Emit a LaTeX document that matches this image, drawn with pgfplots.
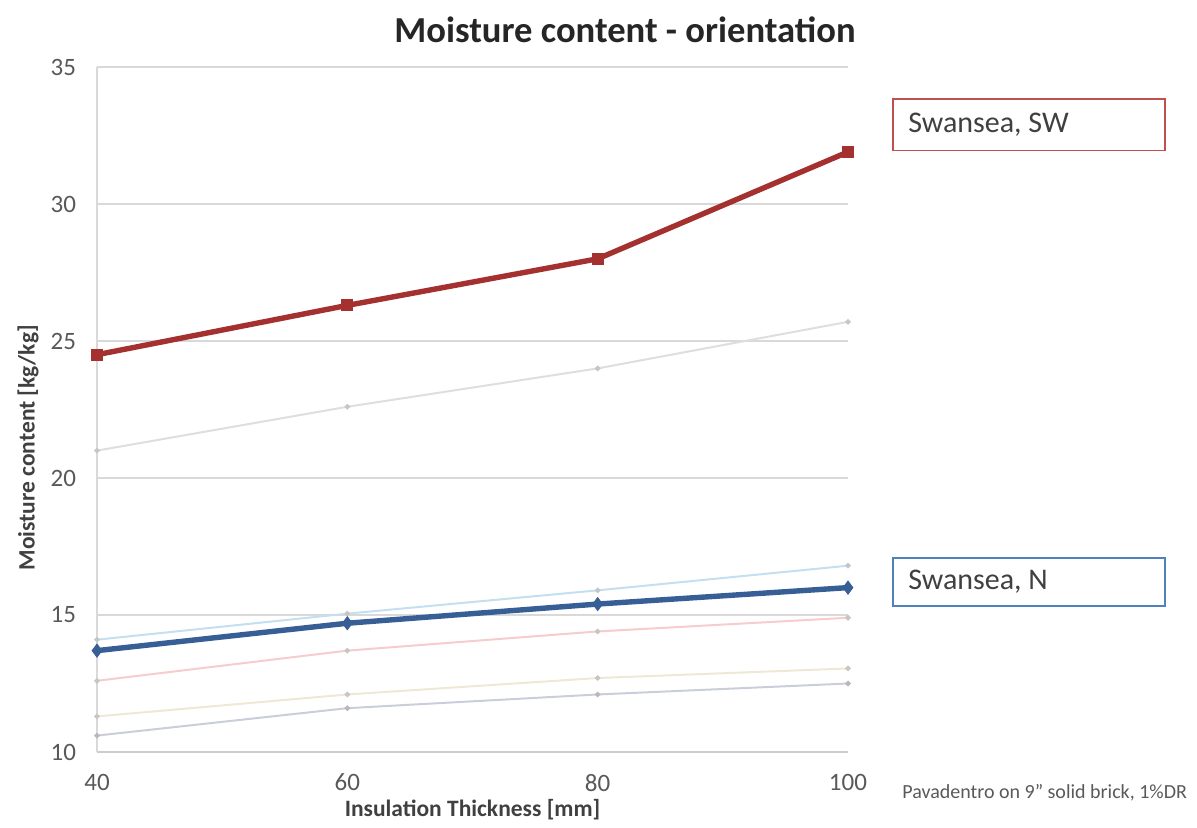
\documentclass[border=0pt]{standalone}
\usepackage{pgfplots}
\pgfplotsset{compat=1.18}
\usepackage{fontspec}
\setmainfont{Carlito}

\definecolor{swred}{RGB}{164,48,48}
\definecolor{nblue}{RGB}{55,95,150}
\definecolor{fgray}{RGB}{222,222,222}
\definecolor{fblue}{RGB}{196,223,240}
\definecolor{fpink}{RGB}{246,204,204}
\definecolor{fbeige}{RGB}{238,232,212}
\definecolor{fslate}{RGB}{202,206,218}
\definecolor{gridc}{RGB}{217,217,217}
\definecolor{tickc}{RGB}{89,89,89}
\definecolor{labc}{RGB}{64,64,64}
\definecolor{boxred}{RGB}{192,80,77}
\definecolor{boxblue}{RGB}{79,129,189}

\begin{document}
\begin{tikzpicture}
  \path[use as bounding box] (0,0) rectangle (598.5pt,413.5pt);

  \begin{axis}[
      at={(48.5pt,37.5pt)}, anchor=south west,
      scale only axis,
      width=375.5pt, height=342.5pt,
      xmin=40, xmax=100,
      ymin=10, ymax=35,
      xtick={40,60,80,100},
      ytick={10,15,20,25,30,35},
      ymajorgrids=true,
      grid style={gridc, line width=0.8pt},
      major tick length=0pt,
      axis x line*=bottom,
      axis y line*=left,
      x axis line style={-, draw=gridc!80!black!30!gridc, line width=0.9pt},
      y axis line style={-, draw=gridc, line width=0.9pt},
      tick label style={font=\fontsize{12.5}{14}\selectfont, text=tickc},
      /pgf/number format/assume math mode=true,
      yticklabel style={xshift=-7pt},
      xticklabel style={yshift=-7.5pt},
      xlabel={Insulation Thickness [mm]},
      ylabel={Moisture content [kg/kg]},
      label style={font=\bfseries\fontsize{11.75}{13}\selectfont, text=labc},
      xlabel style={at={(rel axis cs:0.5,0)}, anchor=center, yshift=-29pt},
      ylabel style={at={(rel axis cs:0,0.444)}, anchor=center, yshift=34.5pt},
      clip=false,
    ]

    % faint reference series
    \addplot[fgray, line width=1pt, mark=*, mark size=0.8pt, mark options={fill=gray!45, draw=gray!45}]
      coordinates {(40,21.0) (60,22.6) (80,24.0) (100,25.7)};
    \addplot[fblue, line width=1pt, mark=*, mark size=0.8pt, mark options={fill=gray!45, draw=gray!45}]
      coordinates {(40,14.1) (60,15.05) (80,15.9) (100,16.8)};
    \addplot[fpink, line width=1pt, mark=*, mark size=0.8pt, mark options={fill=gray!45, draw=gray!45}]
      coordinates {(40,12.6) (60,13.7) (80,14.4) (100,14.9)};
    \addplot[fbeige, line width=1pt, mark=*, mark size=0.8pt, mark options={fill=gray!45, draw=gray!45}]
      coordinates {(40,11.3) (60,12.1) (80,12.7) (100,13.05)};
    \addplot[fslate, line width=1pt, mark=*, mark size=0.8pt, mark options={fill=gray!55, draw=gray!55}]
      coordinates {(40,10.6) (60,11.6) (80,12.1) (100,12.5)};

    % Swansea, N
    \addplot[nblue, line width=2.7pt, mark=diamond*, mark size=3.2pt, mark options={line width=0.5pt}]
      coordinates {(40,13.7) (60,14.7) (80,15.4) (100,16.0)};
    % Swansea, SW
    \addplot[swred, line width=2.7pt, mark=square*, mark size=2.8pt, mark options={line width=0.5pt}]
      coordinates {(40,24.5) (60,26.3) (80,28.0) (100,31.9)};
  \end{axis}

  % title
  \node[font=\bfseries\fontsize{18.3}{20}\selectfont, text=black!85] at (312.5pt,398.5pt)
    {Moisture content - orientation};

  % series labels
  \draw[boxred, line width=0.9pt, fill=white] (446.5pt,338.25pt) rectangle (582.5pt,364pt);
  \node[anchor=west, inner sep=0pt, font=\fontsize{15}{17}\selectfont, text=labc] at (454pt,351pt)
    {Swansea, SW};
  \draw[boxblue, line width=0.9pt, fill=white] (446.5pt,110.5pt) rectangle (582.5pt,134.5pt);
  \node[anchor=west, inner sep=0pt, font=\fontsize{15}{17}\selectfont, text=labc] at (454pt,122.5pt)
    {Swansea, N};

  % footnote
  \node[anchor=west, inner sep=0pt, font=\fontsize{10}{12}\selectfont, text=tickc] at (451pt,17pt)
    {Pavadentro on 9” solid brick, 1\%DR};
\end{tikzpicture}
\end{document}
